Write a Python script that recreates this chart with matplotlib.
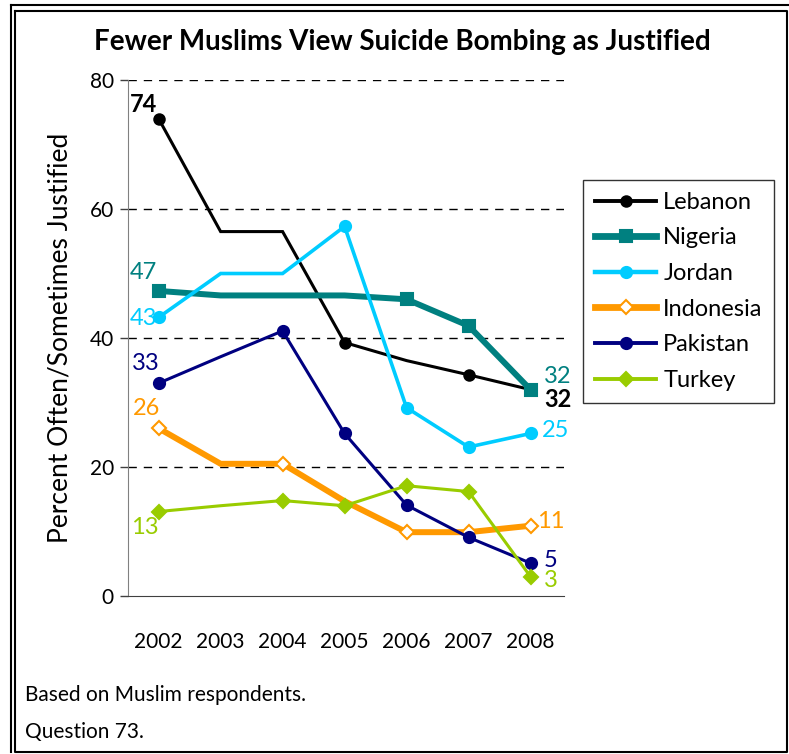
import matplotlib.pyplot as plt
from matplotlib.lines import Line2D

plt.rcParams['font.family'] = ['Lato', 'DejaVu Sans']

years = [2002, 2003, 2004, 2005, 2006, 2007, 2008]

lebanon = [74, 56.5, 56.5, 39.3, 36.5, 34.3, 32]
nigeria = [47.3, 46.6, 46.6, 46.6, 46, 41.9, 32]
jordan = [43.2, 50, 50, 57.3, 29.2, 23.1, 25.2]
indonesia = [26, 20.5, 20.5, 14.7, 9.9, 9.9, 10.9]
pakistan = [33, 37.1, 41.1, 25.2, 14.1, 9.1, 5.1]
turkey = [13.1, 14, 14.8, 14, 17.1, 16.2, 3]

# (name, values, colour, line width, marker, marker size, face, shown marker indices)
series = [
    ('Lebanon', lebanon, 'black', 2.2, 'o', 7.5, 'black', [0, 3, 5, 6]),
    ('Nigeria', nigeria, '#008080', 4.3, 's', 8, '#008080', [0, 4, 5, 6]),
    ('Jordan', jordan, '#00CCFF', 2.6, 'o', 8, '#00CCFF', [0, 3, 4, 5, 6]),
    ('Indonesia', indonesia, '#FF9900', 4.3, 'D', 7, 'white', [0, 2, 4, 5, 6]),
    ('Pakistan', pakistan, '#000080', 2.2, 'o', 8, '#000080', [0, 2, 3, 4, 5, 6]),
    ('Turkey', turkey, '#99CC00', 2.2, 'D', 7.5, '#99CC00', [0, 2, 3, 4, 5, 6]),
]

fig = plt.figure(figsize=(7.89, 7.54), dpi=100)
ax = fig.add_axes([0.1618, 0.2095, 0.553, 0.6844])

handles = []
for name, vals, col, lw, mk, ms, face, every in series:
    ax.plot(years, vals, color=col, lw=lw, marker=mk, ms=ms, mfc=face,
            mec=col, mew=1.5, markevery=every, solid_joinstyle='miter', zorder=3)
    handles.append(Line2D([], [], color=col, lw=lw + 0.6, marker=mk, ms=ms,
                          mfc=face, mec=col, mew=1.5))

ax.set_xlim(2001.5, 2008.54)
ax.set_ylim(0, 80)
ax.set_yticks([0, 20, 40, 60, 80])
ax.set_xticks(years)
for y in [20, 40, 60, 80]:
    ax.axhline(y, color='black', lw=1, ls=(0, (6, 5)), zorder=1)

for s in ['top', 'right']:
    ax.spines[s].set_visible(False)
ax.spines['left'].set_color('#808080')
ax.spines['bottom'].set_color('#404040')
ax.spines['bottom'].set_bounds(2001.5, 2008.54)
ax.tick_params(axis='y', length=6, width=1, color='#404040', labelsize=15, pad=4)
ax.tick_params(axis='x', length=0, labelsize=15, pad=26)

ax.set_ylabel('Percent Often/Sometimes Justified', fontsize=19, labelpad=12)

# value labels at the ends of the lines (offsets in points)
left_labels = [(lebanon, 'black', '74', -11, 10.5, 'bold'), (nigeria, '#008080', '47', -11, 13.5, 'normal'),
               (jordan, '#00CCFF', '43', -11, -0.5, 'normal'), (pakistan, '#000080', '33', -9, 14.5, 'normal'),
               (indonesia, '#FF9900', '26', -9, 14.5, 'normal'), (turkey, '#99CC00', '13', -10, -11.5, 'normal')]
for vals, col, txt, dx, dy, wt in left_labels:
    ax.annotate(txt, (years[0], vals[0]), xytext=(dx, dy), textcoords='offset points',
                ha='center', va='center', color=col, fontsize=17, fontweight=wt)

right_labels = [(nigeria, '#008080', '32', 19.5, 9.5, 'normal'), (lebanon, 'black', '32', 19.5, -7, 'bold'),
                (jordan, '#00CCFF', '25', 18, 2, 'normal'), (indonesia, '#FF9900', '11', 14.5, 3, 'normal'),
                (pakistan, '#000080', '5', 14.5, 2, 'normal'), (turkey, '#99CC00', '3', 14.5, -2.5, 'normal')]
for vals, col, txt, dx, dy, wt in right_labels:
    ax.annotate(txt, (years[-1], vals[-1]), xytext=(dx, dy), textcoords='offset points',
                ha='center', va='center', color=col, fontsize=17, fontweight=wt)

leg = fig.legend(handles, [s[0] for s in series], loc='upper left',
                 bbox_to_anchor=(583 / 789, 1 - 180 / 754), fontsize=17,
                 frameon=True, fancybox=False, edgecolor='black', handlelength=2.6,
                 labelspacing=0.62, handletextpad=0.3, borderpad=0.5, borderaxespad=0)
leg.get_frame().set_linewidth(1)

fig.text(0.51, 1 - 42 / 754, 'Fewer Muslims View Suicide Bombing as Justified',
         ha='center', va='center', fontsize=20, fontweight='bold')
fig.text(25 / 789, 1 - 695 / 754, 'Based on Muslim respondents.', ha='left', va='center', fontsize=15)
fig.text(25 / 789, 1 - 732 / 754, 'Question 73.', ha='left', va='center', fontsize=15)

# double frame around the figure
W, H = 789, 754
def px(x, y):
    return x / W, 1 - y / H
fig.add_artist(Line2D(*zip(px(11, 5), px(11, 752)), color='black', lw=1.5, transform=fig.transFigure))
fig.add_artist(Line2D(*zip(px(11, 5), px(789, 5)), color='black', lw=1.5, transform=fig.transFigure))
corners = [px(15, 11), px(787, 11), px(787, 752), px(15, 752), px(15, 11)]
fig.add_artist(Line2D(*zip(*corners), color='black', lw=1.5, transform=fig.transFigure))

fig.savefig('out.png', dpi=100)
